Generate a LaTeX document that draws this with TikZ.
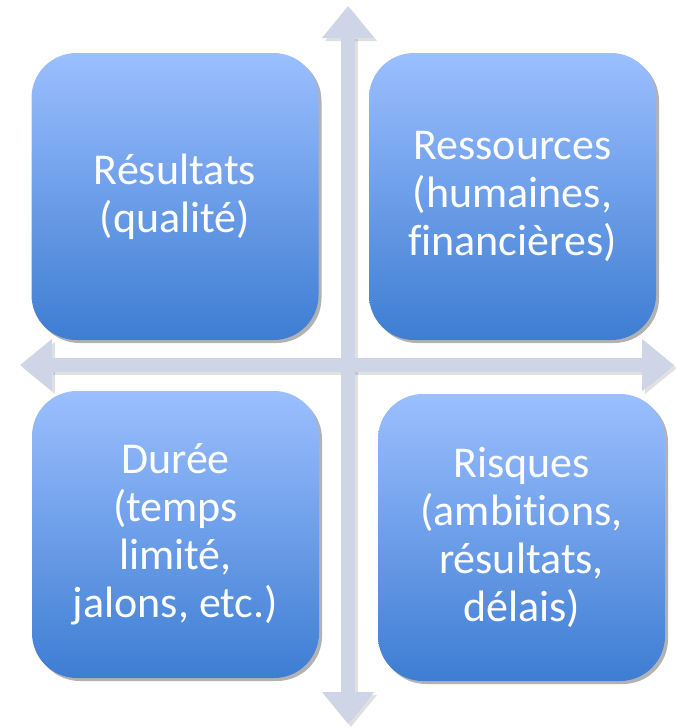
\documentclass[tikz,border=0pt]{standalone}
\usepackage{fontspec}
\setmainfont{Carlito}[Ligatures=NoCommon]
\usetikzlibrary{arrows.meta,shadows}
\definecolor{axisgray}{RGB}{205,213,230}
\definecolor{boxtop}{RGB}{155,191,255}
\definecolor{boxbottom}{RGB}{62,125,210}
\tikzset{
	quad/.style={rectangle, rounded corners=45pt, minimum width=287pt, minimum height=287pt,
		top color=boxtop, bottom color=boxbottom, text=white, align=center,
		font=\fontsize{44}{48}\selectfont,
		drop shadow={shadow xshift=3pt, shadow yshift=-3pt, opacity=0.3, fill=black}},
	axis/.style={line width=14pt, draw=axisgray, {Triangle[length=32pt,width=50pt]}-{Triangle[length=32pt,width=50pt]}},
	axisshadow/.style={line width=14pt, draw=black, opacity=0.12, {Triangle[length=32pt,width=50pt]}-{Triangle[length=32pt,width=50pt]}}
}
\begin{document}
\begin{tikzpicture}[x=1pt,y=-1pt]
 	\useasboundingbox (0,0) rectangle (675,728);
	\coordinate (top) at (348,6);
	\coordinate (bottom) at (348,724);
	\coordinate (left) at (20,365);
	\coordinate (right) at (674,365);
	%shadows of the axes
	\draw [axisshadow, transform canvas={shift={(3pt,-3pt)}}] (bottom) -- (top);
	\draw [axisshadow, transform canvas={shift={(3pt,-3pt)}}] (left) -- (right);
	\draw [axis] (bottom) -- (top);
	\draw [axis] (left) -- (right);
	\node [quad] (resultats) at (175,196.5) {R\'esultats\\(qualit\'e)};
	\node [quad] (ressources) at (512.5,196.5) {Ressources\\(humaines,\\financi\`eres)};
	\node [quad] (duree) at (175.5,534.5) {Dur\'ee\\(temps\\limit\'e,\\jalons, etc.)};
	\node [quad] (risques) at (521.5,537.5) {Risques\\(ambitions,\\r\'esultats,\\d\'elais)};
\end{tikzpicture}
\end{document}
